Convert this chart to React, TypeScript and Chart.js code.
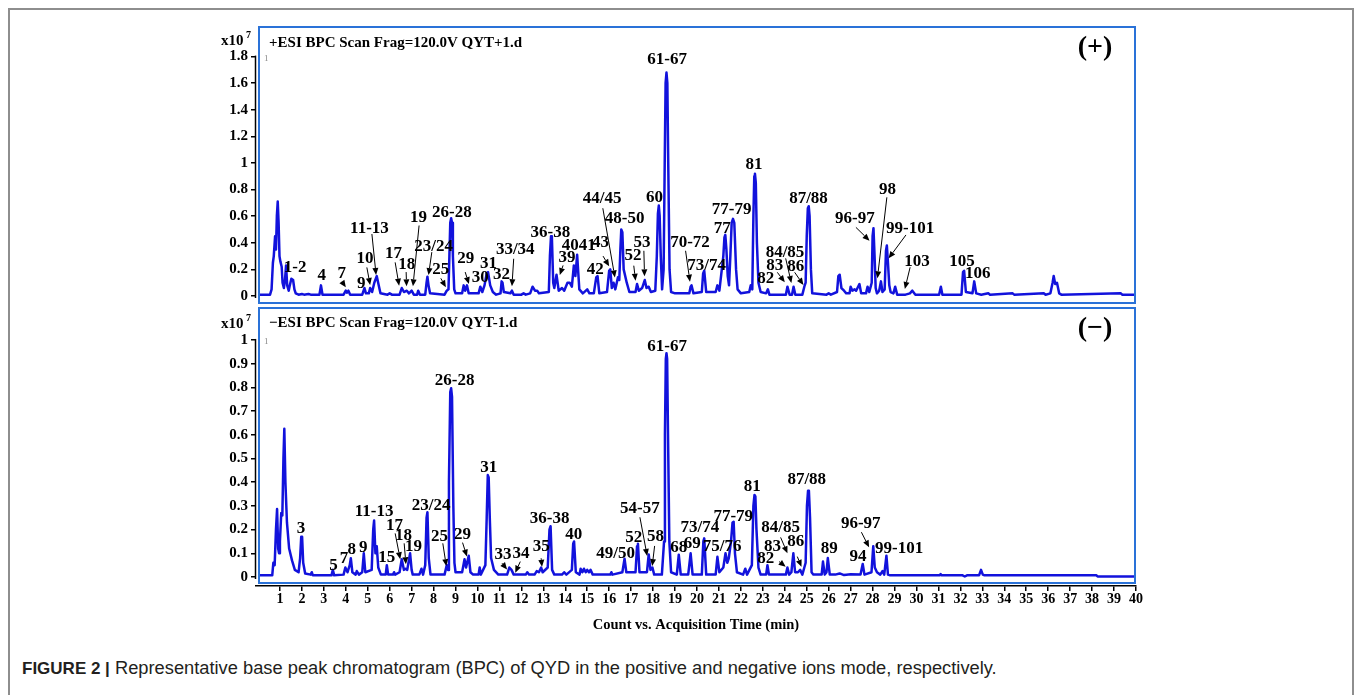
import React, { useEffect, useRef } from "react";
import { Chart, registerables } from "chart.js";

Chart.register(...registerables);

const FONT = '"Liberation Serif", "Times New Roman", serif';
const TRACE_BLUE = "#1212dc";
const BOX_BLUE = "#2a72d8";

// ---------- DATA (retention time in min, intensity in x10^7 counts) ----------
const posTrace: [number, number][] = [
  [0, 0.01], [0.55, 0.01], [0.62, 0.05], [0.68, 0.25], [0.72, 0.3], [0.78, 0.45], [0.82, 0.35], [0.86, 0.6], [0.9, 0.71],
  [0.94, 0.55], [0.98, 0.3], [1.02, 0.26], [1.08, 0.22], [1.12, 0.1], [1.18, 0.06], [1.23, 0.12], [1.28, 0.23], [1.33, 0.08],
  [1.4, 0.04], [1.45, 0.08], [1.52, 0.13], [1.6, 0.12], [1.66, 0.05], [1.72, 0.02], [1.85, 0.01], [2.0, 0.015], [2.1, 0.01],
  [2.3, 0.015], [2.4, 0.01], [2.8, 0.01], [2.87, 0.08], [2.94, 0.01], [3.9, 0.01], [4.0, 0.04], [4.05, 0.025], [4.12, 0.04],
  [4.2, 0.01], [4.75, 0.01], [4.85, 0.06], [4.92, 0.02], [5.05, 0.02], [5.11, 0.06], [5.2, 0.03], [5.3, 0.1], [5.41, 0.15],
  [5.5, 0.08], [5.58, 0.02], [5.9, 0.01], [6.0, 0.02], [6.1, 0.01], [6.45, 0.01], [6.55, 0.06], [6.65, 0.03], [6.78, 0.04],
  [6.88, 0.02], [7.0, 0.04], [7.1, 0.01], [7.25, 0.01], [7.3, 0.04], [7.38, 0.01], [7.62, 0.01], [7.68, 0.1], [7.72, 0.145],
  [7.77, 0.08], [7.84, 0.02], [8.5, 0.01], [8.6, 0.04], [8.68, 0.05], [8.72, 0.3], [8.76, 0.55], [8.8, 0.585], [8.84, 0.55],
  [8.88, 0.3], [8.94, 0.05], [9.0, 0.02], [9.3, 0.02],
  [9.37, 0.08], [9.44, 0.04], [9.52, 0.08], [9.6, 0.02], [10.05, 0.02], [10.13, 0.07], [10.22, 0.03], [10.32, 0.08],
  [10.42, 0.17], [10.48, 0.18], [10.58, 0.08], [10.7, 0.03], [10.85, 0.01], [11.05, 0.02], [11.1, 0.11], [11.14, 0.1],
  [11.2, 0.03], [11.5, 0.02], [11.57, 0.04], [11.65, 0.01], [12.0, 0.01], [12.1, 0.02], [12.2, 0.01], [12.4, 0.02],
  [12.51, 0.07], [12.62, 0.04], [12.72, 0.04], [12.8, 0.02], [13.25, 0.03], [13.3, 0.3], [13.35, 0.45], [13.39, 0.44],
  [13.45, 0.1], [13.5, 0.06], [13.6, 0.16], [13.7, 0.04], [13.85, 0.06],
  [13.95, 0.04], [14.1, 0.1], [14.2, 0.1], [14.3, 0.07], [14.39, 0.23], [14.46, 0.15], [14.54, 0.31], [14.64, 0.05],
  [14.8, 0.02], [15.0, 0.05], [15.1, 0.02], [15.3, 0.02], [15.41, 0.14], [15.47, 0.15], [15.55, 0.02], [15.9, 0.03],
  [16.0, 0.19], [16.05, 0.2], [16.12, 0.06], [16.2, 0.1], [16.28, 0.05], [16.4, 0.14], [16.46, 0.12], [16.51, 0.35],
  [16.55, 0.5], [16.6, 0.48], [16.66, 0.2], [16.8, 0.1],
  [16.92, 0.03], [17.2, 0.03], [17.27, 0.09], [17.35, 0.04], [17.5, 0.06], [17.62, 0.12], [17.7, 0.06], [17.8, 0.07],
  [17.9, 0.03], [18.1, 0.04], [18.17, 0.3], [18.22, 0.62], [18.26, 0.68], [18.3, 0.6], [18.35, 0.3], [18.41, 0.05],
  [18.48, 0.2], [18.53, 1.0], [18.57, 1.6], [18.61, 1.68], [18.65, 1.6], [18.69, 1.0], [18.75, 0.2], [18.82, 0.03],
  [19.0, 0.02], [19.2, 0.02], [19.65, 0.02], [19.71, 0.07], [19.75, 0.08],
  [19.84, 0.02], [20.22, 0.03], [20.28, 0.17], [20.33, 0.19], [20.42, 0.03], [20.85, 0.03], [20.93, 0.08], [21.02, 0.04],
  [21.2, 0.3], [21.25, 0.44], [21.29, 0.46], [21.34, 0.35], [21.4, 0.15], [21.46, 0.08], [21.52, 0.3], [21.58, 0.55],
  [21.64, 0.58], [21.7, 0.55], [21.78, 0.2], [21.85, 0.05], [22.0, 0.02],
  [22.38, 0.03], [22.45, 0.08], [22.52, 0.05], [22.57, 0.6], [22.61, 0.9], [22.64, 0.92], [22.68, 0.85], [22.73, 0.4],
  [22.8, 0.1], [22.9, 0.03],
  [23.15, 0.02], [23.23, 0.05], [23.3, 0.01], [24.05, 0.01], [24.12, 0.07], [24.22, 0.01], [24.33, 0.01], [24.4, 0.07],
  [24.48, 0.01], [24.8, 0.01], [24.89, 0.07], [24.95, 0.1], [25.0, 0.45], [25.05, 0.66], [25.09, 0.675], [25.13, 0.6],
  [25.19, 0.2], [25.25, 0.02],
  [25.9, 0.01], [26.0, 0.02], [26.1, 0.01], [26.38, 0.03], [26.44, 0.15], [26.5, 0.16], [26.58, 0.06], [26.7, 0.04],
  [26.8, 0.02], [26.95, 0.02], [27.0, 0.07], [27.08, 0.04], [27.18, 0.05], [27.25, 0.04], [27.4, 0.09], [27.48, 0.02],
  [27.7, 0.02], [27.77, 0.07], [27.85, 0.03], [27.96, 0.1], [28.0, 0.45], [28.04, 0.51], [28.09, 0.3], [28.14, 0.06],
  [28.2, 0.02], [28.3, 0.04], [28.38, 0.11],
  [28.45, 0.03], [28.55, 0.05], [28.61, 0.34], [28.65, 0.38], [28.7, 0.25], [28.76, 0.08], [28.82, 0.03], [28.95, 0.02],
  [29.03, 0.07], [29.12, 0.01],
  [29.5, 0.01], [29.7, 0.02], [29.81, 0.04], [29.95, 0.01], [31.03, 0.01], [31.11, 0.07], [31.18, 0.01], [32.05, 0.01],
  [32.12, 0.18], [32.17, 0.19], [32.25, 0.03], [32.55, 0.02], [32.63, 0.11], [32.72, 0.02], [32.95, 0.01], [33.27, 0.02],
  [33.35, 0.01], [34.38, 0.02], [34.45, 0.01], [35.8, 0.02], [35.88, 0.01], [36.1, 0.02], [36.2, 0.1], [36.25, 0.15],
  [36.32, 0.09], [36.4, 0.1], [36.5, 0.02], [36.6, 0.01], [39.3, 0.02], [39.38, 0.01], [40, 0.01],
];

const negTrace: [number, number][] = [
  [0, 0.007], [0.65, 0.007], [0.7, 0.06], [0.76, 0.05], [0.82, 0.2], [0.87, 0.287], [0.92, 0.12], [0.96, 0.1], [1.0, 0.15],
  [1.06, 0.27], [1.11, 0.26], [1.16, 0.5], [1.2, 0.625], [1.25, 0.4], [1.32, 0.23], [1.42, 0.12], [1.55, 0.07], [1.68, 0.03],
  [1.85, 0.02], [1.92, 0.08], [1.97, 0.17], [2.01, 0.17], [2.06, 0.06], [2.15, 0.015], [2.4, 0.01], [2.45, 0.02], [2.5, 0.007],
  [3.35, 0.007], [3.41, 0.03], [3.47, 0.007], [3.9, 0.01], [3.98, 0.04], [4.08, 0.02], [4.18, 0.05], [4.23, 0.079],
  [4.3, 0.02], [4.45, 0.01], [4.5, 0.025], [4.6, 0.01], [4.75, 0.02], [4.82, 0.1], [4.89, 0.02], [5.18, 0.03], [5.25, 0.2],
  [5.29, 0.238], [5.35, 0.1], [5.41, 0.13], [5.48, 0.04], [5.6, 0.01], [5.82, 0.01], [5.87, 0.05], [5.93, 0.01], [6.15, 0.01],
  [6.2, 0.02], [6.25, 0.01], [6.45, 0.02], [6.55, 0.075], [6.65, 0.03], [6.72, 0.035], [6.8, 0.03], [6.93, 0.1], [7.0, 0.03],
  [7.05, 0.01], [7.35, 0.01], [7.45, 0.035], [7.52, 0.01], [7.62, 0.05], [7.68, 0.25], [7.72, 0.273], [7.78, 0.08],
  [7.86, 0.01], [8.5, 0.01], [8.6, 0.05], [8.66, 0.03], [8.7, 0.4], [8.76, 0.78], [8.8, 0.796], [8.84, 0.76], [8.9, 0.3],
  [8.95, 0.06], [9.0, 0.02], [9.3, 0.02], [9.41, 0.075], [9.48, 0.04], [9.6, 0.09], [9.68, 0.02], [9.8, 0.01], [10.05, 0.01],
  [10.1, 0.04], [10.15, 0.01], [10.36, 0.05], [10.42, 0.25], [10.47, 0.43], [10.51, 0.42], [10.56, 0.25], [10.62, 0.08],
  [10.75, 0.03], [10.95, 0.01], [11.35, 0.01], [11.45, 0.04], [11.55, 0.03],
  [11.65, 0.01], [12.2, 0.01], [12.27, 0.02], [12.35, 0.01], [12.6, 0.01], [12.7, 0.025], [12.8, 0.02], [12.9, 0.04],
  [12.97, 0.02], [13.2, 0.04], [13.28, 0.2], [13.33, 0.214], [13.4, 0.03], [13.5, 0.01], [13.85, 0.01], [13.95, 0.02],
  [14.05, 0.01], [14.3, 0.03], [14.36, 0.14], [14.4, 0.15], [14.48, 0.02], [14.65, 0.01], [14.7, 0.035], [14.78, 0.02],
  [14.85, 0.035], [14.93, 0.02], [15.0, 0.03], [15.08, 0.02], [15.15, 0.03], [15.25, 0.01], [16.05, 0.01], [16.1, 0.02],
  [16.15, 0.01], [16.6, 0.02], [16.7, 0.077], [16.78, 0.02], [17.2, 0.02], [17.27, 0.13], [17.31, 0.14], [17.38, 0.02],
  [17.72, 0.02], [17.8, 0.095], [17.88, 0.03], [17.97, 0.04], [18.05, 0.01], [18.4, 0.01], [18.5, 0.15], [18.54, 0.6],
  [18.58, 0.92], [18.61, 0.944], [18.64, 0.92], [18.68, 0.6], [18.74, 0.15], [18.82, 0.02], [19.08, 0.01], [19.17, 0.094],
  [19.26, 0.01], [19.6, 0.01], [19.71, 0.1], [19.8, 0.01], [20.22, 0.01], [20.29, 0.15], [20.33, 0.163], [20.42, 0.01],
  [20.85, 0.01], [20.93, 0.085], [21.02, 0.02], [21.2, 0.04], [21.3, 0.1], [21.38, 0.06], [21.45, 0.08], [21.55, 0.15],
  [21.62, 0.23], [21.67, 0.233], [21.73, 0.1], [21.82, 0.02], [22.1, 0.01], [22.2, 0.035], [22.28, 0.01],
  [22.5, 0.05], [22.57, 0.3], [22.62, 0.346], [22.66, 0.34], [22.71, 0.2], [22.8, 0.04], [22.9, 0.01], [23.15, 0.01],
  [23.21, 0.05], [23.28, 0.01], [24.05, 0.01], [24.12, 0.04], [24.2, 0.01], [24.3, 0.02], [24.39, 0.1], [24.47, 0.02],
  [24.6, 0.02], [24.7, 0.03], [24.8, 0.01], [24.89, 0.04], [24.95, 0.06], [25.01, 0.3], [25.06, 0.364], [25.1, 0.36],
  [25.15, 0.25], [25.22, 0.02], [25.3, 0.01], [25.68, 0.01], [25.74, 0.065], [25.82, 0.01], [25.9, 0.02], [25.96, 0.08],
  [26.05, 0.01], [26.3, 0.01], [26.5, 0.015], [26.7, 0.008], [27.0, 0.012], [27.45, 0.01], [27.55, 0.055], [27.63, 0.01],
  [27.95, 0.02], [28.03, 0.13], [28.1, 0.04], [28.2, 0.02], [28.35, 0.01], [28.45, 0.025], [28.53, 0.01], [28.63, 0.09],
  [28.7, 0.01], [28.8, 0.007], [31.05, 0.007], [31.1, 0.012], [31.15, 0.007], [32.1, 0.007], [32.2, 0.002], [32.3, 0.007],
  [32.85, 0.007], [32.94, 0.03], [33.02, 0.01], [33.1, 0.007], [38.2, 0.007], [38.25, 0.002], [40, 0.002],
];

const xTickValues = [1, 2, 3, 4, 5, 6, 7, 8, 9, 10, 11, 12, 13, 14, 15, 16, 17, 18, 19, 20,
  21, 22, 23, 24, 25, 26, 27, 28, 29, 30, 31, 32, 33, 34, 35, 36, 37, 38, 39, 40];
const posYTicks = [0, 0.2, 0.4, 0.6, 0.8, 1, 1.2, 1.4, 1.6, 1.8];
const posYTickLabels = ["0", "0.2", "0.4", "0.6", "0.8", "1", "1.2", "1.4", "1.6", "1.8"];
const negYTicks = [0, 0.1, 0.2, 0.3, 0.4, 0.5, 0.6, 0.7, 0.8, 0.9, 1];
const negYTickLabels = ["0", "0.1", "0.2", "0.3", "0.4", "0.5", "0.6", "0.7", "0.8", "0.9", "1"];

// peak labels: [text, time, intensity]
const posPeakLabels: [string, number, number][] = [
  ["1-2", 1.69, 0.21], ["4", 2.9, 0.15], ["7", 3.82, 0.17], ["9", 4.7, 0.095], ["10", 4.88, 0.28], ["11-13", 5.08, 0.51],
  ["17", 6.17, 0.32], ["18", 6.78, 0.235], ["19", 7.31, 0.59], ["23/24", 8.0, 0.37], ["25", 8.33, 0.2], ["26-28", 8.83, 0.63],
  ["29", 9.47, 0.28], ["30", 10.13, 0.14], ["31", 10.5, 0.24], ["32", 11.09, 0.16], ["33/34", 11.72, 0.35],
  ["36-38", 13.32, 0.48], ["39", 14.08, 0.29], ["40", 14.23, 0.38], ["41", 15.0, 0.38], ["42", 15.37, 0.2], ["43", 15.6, 0.4],
  ["44/45", 15.68, 0.735], ["48-50", 16.7, 0.58], ["52", 17.08, 0.3], ["53", 17.5, 0.4], ["60", 18.07, 0.74],
  ["61-67", 18.64, 1.78], ["70-72", 19.68, 0.4], ["73/74", 20.44, 0.23], ["77", 21.15, 0.51], ["77-79", 21.58, 0.65],
  ["81", 22.6, 0.99], ["82", 23.13, 0.13], ["83", 23.54, 0.23], ["84/85", 24.01, 0.33], ["86", 24.5, 0.22],
  ["87/88", 25.08, 0.73], ["96-97", 27.19, 0.585], ["98", 28.68, 0.8], ["99-101", 29.71, 0.51], ["103", 30.02, 0.26],
  ["105", 32.07, 0.26], ["106", 32.79, 0.17],
];
// arrows: [tail time, tail intensity, tip time, tip intensity]
const posArrows: [number, number, number, number][] = [
  [3.82, 0.11, 4.0, 0.065], [4.96, 0.215, 5.11, 0.083], [5.19, 0.466, 5.38, 0.158], [6.25, 0.253, 6.43, 0.077],
  [6.75, 0.18, 6.77, 0.073], [7.34, 0.53, 7.06, 0.073], [7.92, 0.33, 7.77, 0.158], [8.33, 0.133, 8.56, 0.065],
  [9.44, 0.18, 9.61, 0.09], [11.65, 0.28, 11.57, 0.073], [13.9, 0.23, 13.75, 0.158], [15.72, 0.3, 16.0, 0.223],
  [15.71, 0.66, 16.26, 0.14], [17.12, 0.228, 17.2, 0.115], [17.58, 0.34, 17.61, 0.148], [19.48, 0.34, 19.68, 0.108],
  [23.66, 0.178, 24.0, 0.103], [24.04, 0.283, 24.3, 0.098], [24.45, 0.178, 24.85, 0.083], [27.24, 0.516, 27.86, 0.416],
  [28.65, 0.742, 28.22, 0.133], [29.52, 0.459, 28.73, 0.283], [29.71, 0.216, 29.47, 0.053],
];

const negPeakLabels: [string, number, number][] = [
  ["3", 1.96, 0.205], ["5", 3.44, 0.05], ["7", 3.92, 0.076], ["8", 4.27, 0.115], ["9", 4.8, 0.125], ["11-13", 5.29, 0.275],
  ["15", 5.87, 0.08], ["17", 6.22, 0.215], ["18", 6.63, 0.175], ["19", 7.09, 0.13], ["23/24", 7.89, 0.3], ["25", 8.27, 0.17],
  ["26-28", 8.96, 0.83], ["29", 9.32, 0.18], ["31", 10.51, 0.46], ["33", 11.16, 0.093], ["34", 11.98, 0.1], ["35", 12.9, 0.13],
  ["36-38", 13.29, 0.245], ["40", 14.39, 0.177], ["49/50", 16.29, 0.097], ["52", 17.12, 0.165], ["54-57", 17.4, 0.29],
  ["58", 18.11, 0.17], ["61-67", 18.64, 0.97], ["68", 19.17, 0.125], ["69", 19.78, 0.14], ["73/74", 20.13, 0.21],
  ["75/76", 21.15, 0.13], ["77-79", 21.65, 0.256], ["81", 22.52, 0.383], ["82", 23.13, 0.076], ["83", 23.44, 0.13],
  ["84/85", 23.81, 0.21], ["86", 24.5, 0.15], ["87/88", 25.0, 0.41], ["89", 26.02, 0.12], ["94", 27.34, 0.087],
  ["96-97", 27.46, 0.224], ["99-101", 29.21, 0.12],
];
const negArrows: [number, number, number, number][] = [
  [6.25, 0.184, 6.48, 0.075], [6.66, 0.142, 6.74, 0.054], [8.42, 0.142, 8.58, 0.046], [9.32, 0.145, 9.52, 0.086],
  [11.12, 0.058, 11.35, 0.032], [11.95, 0.065, 11.72, 0.018], [12.9, 0.079, 12.94, 0.043], [17.4, 0.252, 17.73, 0.089],
  [18.07, 0.131, 17.96, 0.046], [23.74, 0.065, 24.04, 0.043], [23.81, 0.167, 24.12, 0.1], [24.57, 0.086, 24.76, 0.043],
  [27.49, 0.189, 27.84, 0.125],
];

const posHeader = "+ESI BPC Scan Frag=120.0V QYT+1.d";
const negHeader = "\u2212ESI BPC Scan Frag=120.0V QYT-1.d";
const posSign = "(+)";
const negSign = "(\u2212)";
const xTitle = "Count vs. Acquisition Time (min)";

// ---------- drawing helpers ----------
function drawArrow(ctx: CanvasRenderingContext2D, x1: number, y1: number, x2: number, y2: number) {
  const ang = Math.atan2(y2 - y1, x2 - x1);
  const head = 7;
  const half = 3;
  const bx = x2 - head * Math.cos(ang);
  const by = y2 - head * Math.sin(ang);
  ctx.beginPath();
  ctx.moveTo(x1, y1);
  ctx.lineTo(bx, by);
  ctx.lineWidth = 1;
  ctx.stroke();
  ctx.beginPath();
  ctx.moveTo(x2, y2);
  ctx.lineTo(bx + half * Math.sin(ang), by - half * Math.cos(ang));
  ctx.lineTo(bx - half * Math.sin(ang), by + half * Math.cos(ang));
  ctx.closePath();
  ctx.fill();
}

type Decor = {
  header: string;
  sign: string;
  labels: [string, number, number][];
  arrows: [number, number, number, number][];
  yTop: number;
  boxBottomInset: number;
  headerDy: number;
  expDy: number;
};

function makeDecorPlugin(d: Decor) {
  return {
    id: "decor",
    afterDatasetsDraw(chart: any) {
      const { ctx, chartArea: a, scales } = chart;
      const xs = scales.x;
      const ys = scales.y;
      ctx.save();
      // panel frame
      ctx.strokeStyle = BOX_BLUE;
      ctx.lineWidth = 2;
      ctx.strokeRect(a.left + 3, a.top + 1, a.right - a.left - 4, a.bottom - d.boxBottomInset - a.top - 1);
      // y axis line
      ctx.strokeStyle = "#000";
      ctx.lineWidth = 1.5;
      ctx.beginPath();
      ctx.moveTo(a.left - 0.5, ys.getPixelForValue(d.yTop) - 1);
      ctx.lineTo(a.left - 0.5, ys.getPixelForValue(0) + 2);
      ctx.stroke();
      // x10^7
      ctx.fillStyle = "#000";
      ctx.textBaseline = "middle";
      ctx.textAlign = "left";
      ctx.font = `bold 15px ${FONT}`;
      ctx.fillText("x10", a.left - 35, a.top + d.expDy);
      ctx.font = `bold 10px ${FONT}`;
      ctx.fillText("7", a.left - 10, a.top + d.expDy - 6);
      // header
      ctx.font = `bold 15px ${FONT}`;
      ctx.fillText(d.header, a.left + 13, a.top + d.headerDy);
      // tiny marker
      ctx.fillStyle = "#888";
      ctx.font = `9px ${FONT}`;
      ctx.fillText("1", a.left + 8, ys.getPixelForValue(d.yTop) + 2);
      // polarity sign
      ctx.fillStyle = "#000";
      ctx.textAlign = "center";
      ctx.font = `bold 28px ${FONT}`;
      ctx.fillText(d.sign, a.right - 41, a.top + 22);
      // peak labels
      ctx.font = `bold 17px ${FONT}`;
      for (const [txt, t, v] of d.labels) {
        ctx.fillText(txt, xs.getPixelForValue(t), ys.getPixelForValue(v));
      }
      // arrows
      ctx.strokeStyle = "#000";
      ctx.fillStyle = "#000";
      for (const [t1, v1, t2, v2] of d.arrows) {
        drawArrow(ctx, xs.getPixelForValue(t1), ys.getPixelForValue(v1), xs.getPixelForValue(t2), ys.getPixelForValue(v2));
      }
      ctx.restore();
    },
  };
}

function buildConfig(isPos: boolean): any {
  const trace = isPos ? posTrace : negTrace;
  const yTicks = isPos ? posYTicks : negYTicks;
  const yLabels = isPos ? posYTickLabels : negYTickLabels;
  const decor: Decor = isPos
    ? { header: posHeader, sign: posSign, labels: posPeakLabels, arrows: posArrows, yTop: 1.8, boxBottomInset: 0, headerDy: 17, expDy: 15 }
    : { header: negHeader, sign: negSign, labels: negPeakLabels, arrows: negArrows, yTop: 1, boxBottomInset: 3, headerDy: 16, expDy: 17 };
  return {
    type: "line",
    data: {
      datasets: [
        {
          data: trace.map(([t, v]) => ({ x: t, y: v })),
          borderColor: TRACE_BLUE,
          borderWidth: 2.5,
          borderJoinStyle: "round",
          pointRadius: 0,
          tension: 0,
          fill: false,
        },
      ],
    },
    options: {
      animation: false,
      responsive: false,
      maintainAspectRatio: false,
      events: [],
      layout: {
        padding: isPos ? { top: 6, right: 14, bottom: 7, left: 0 } : { top: 7, right: 14, bottom: 0, left: 0 },
      },
      plugins: { legend: { display: false }, tooltip: { enabled: false }, title: { display: false } },
      scales: {
        x: {
          type: "linear",
          min: -0.09,
          max: 40,
          display: !isPos,
          afterBuildTicks: (s: any) => {
            s.ticks = xTickValues.map((v) => ({ value: v }));
          },
          afterFit: (s: any) => {
            if (!isPos) s.height = 54;
            s.paddingLeft = 0;
            s.paddingRight = 0;
          },
          ticks: {
            autoSkip: false,
            maxRotation: 0,
            minRotation: 0,
            padding: 0,
            color: "#000",
            font: { family: FONT, size: 14, weight: "bold" },
            callback: (v: any) => String(v),
          },
          grid: { drawOnChartArea: false, drawTicks: true, tickLength: 5, color: "#000", lineWidth: 1.5 },
          border: { display: true, color: "#000", width: 1.5 },
          title: {
            display: true,
            text: xTitle,
            color: "#000",
            font: { family: FONT, size: 14.5, weight: "bold" },
            padding: { top: 0, bottom: 6 },
          },
        },
        y: {
          type: "linear",
          min: isPos ? -0.0526 : -0.038,
          max: isPos ? 2.03 : 1.139,
          afterBuildTicks: (s: any) => {
            s.ticks = yTicks.map((v) => ({ value: v }));
          },
          afterFit: (s: any) => {
            s.width = 56;
            s.paddingTop = 0;
            s.paddingBottom = 0;
          },
          ticks: {
            padding: 3,
            color: "#000",
            font: { family: FONT, size: 15, weight: "bold" },
            callback: (_v: any, i: number) => yLabels[i],
          },
          grid: { drawOnChartArea: false, drawTicks: true, tickLength: 5, color: "#000", lineWidth: 1.5 },
          border: { display: false },
        },
      },
    },
    plugins: [makeDecorPlugin(decor)],
  };
}

export default function App() {
  const topRef = useRef<HTMLCanvasElement>(null);
  const botRef = useRef<HTMLCanvasElement>(null);

  useEffect(() => {
    const c1 = new Chart(topRef.current as HTMLCanvasElement, buildConfig(true));
    const c2 = new Chart(botRef.current as HTMLCanvasElement, buildConfig(false));
    return () => {
      c1.destroy();
      c2.destroy();
    };
  }, []);

  return (
    <div style={{ position: "fixed", left: 0, top: 0, width: 1355, height: 695, background: "#fff", overflow: "hidden" }}>
      <div
        style={{
          position: "absolute",
          left: 8,
          top: 8,
          width: 1346,
          height: 740,
          border: "2px solid #8e8e8e",
          boxSizing: "border-box",
        }}
      />
      <canvas ref={topRef} width={950} height={290} style={{ position: "absolute", left: 200, top: 20 }} />
      <canvas ref={botRef} width={950} height={340} style={{ position: "absolute", left: 200, top: 300 }} />
      <div
        style={{
          position: "absolute",
          left: 22,
          top: 658,
          font: '18.3px "Liberation Sans", Arial, sans-serif',
          lineHeight: "20px",
          color: "#231f20",
          whiteSpace: "nowrap",
        }}
      >
        <b style={{ fontSize: "17px" }}>FIGURE 2 |</b> Representative base peak chromatogram (BPC) of QYD in the positive and negative ions mode, respectively.
      </div>
    </div>
  );
}
